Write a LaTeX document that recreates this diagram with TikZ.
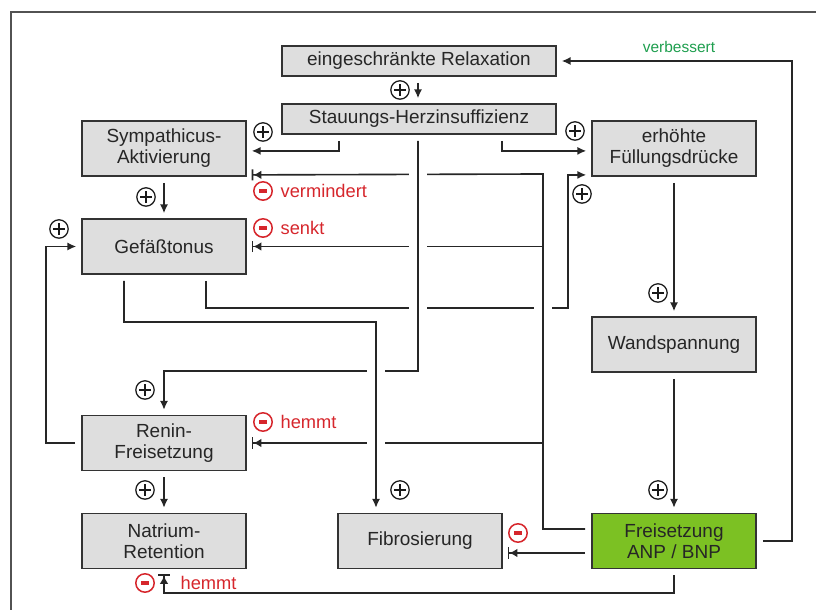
\documentclass[tikz,border=0pt]{standalone}
\usepackage{fontspec}
\setmainfont{Liberation Sans}
\usetikzlibrary{calc,arrows.meta,positioning}
\definecolor{kastengrau}{RGB}{222,222,222}
\definecolor{randgrau}{RGB}{51,51,51}
\definecolor{anpgruen}{RGB}{124,193,35}
\definecolor{hemmrot}{RGB}{214,38,44}
\definecolor{verbgruen}{RGB}{30,158,78}
\def\lgap(#1){\fill[white] ($(#1)+(-0.23,-0.08)$) rectangle ($(#1)+(0.23,0.08)$);}
\tikzset{
  kasten/.style={draw=randgrau, line width=1.3pt, fill=kastengrau, text=black!85, align=center,
    minimum width=4.1cm, minimum height=1.375cm, inner sep=1pt, font=\fontsize{13.5}{15}\selectfont},
  breit/.style={kasten, minimum width=6.85cm, minimum height=0.75cm},
  pfeil/.style={line width=1.15pt, draw=black!85, -{Latex[length=2.2mm,width=2mm]},
    shorten <=0.15cm, shorten >=0.12cm},
  hemmpfeil/.style={line width=1.15pt, draw=black!85, -{Latex[length=2mm,width=2.2mm]Bar[width=2.8mm,line width=1.2pt]},
    shorten <=0.15cm, shorten >=0.12cm},
  plusz/.style={circle, draw=black!90, line width=0.9pt, minimum size=0.46cm, inner sep=0pt,
    path picture={\draw[line width=0.9pt] ($(path picture bounding box.center)+(-0.15,0)$) -- ++(0.3,0)
      ($(path picture bounding box.center)+(0,-0.15)$) -- ++(0,0.3);}},
  minusz/.style={circle, draw=hemmrot, line width=1.1pt, minimum size=0.46cm, inner sep=0pt,
    path picture={\draw[hemmrot, line width=2.2pt] ($(path picture bounding box.center)+(-0.1,0)$) -- ++(0.2,0);}},
  rottext/.style={text=hemmrot, inner sep=1pt, font=\fontsize{13}{15}\selectfont}
}

\begin{document}
\begin{tikzpicture}
	%%%%% RAHMEN %%%%%
	\useasboundingbox (0,0) rectangle (20.4,15.25);
	\draw[line width=2pt, color=black!68] (0.275,0) -- (0.275,14.95) -- (20.4,14.95);
	
	%%%%% KAESTEN %%%%%
	\node[breit] (relax) at (10.475,13.725) {eingeschränkte Relaxation};
	\node[breit] (stau) at (10.475,12.275) {Stauungs-Herzinsuffizienz};
	\node[kasten] (symp) at (4.1,11.5375) {Sympathicus-\\Aktivierung};
	\node[kasten] (gef) at (4.1,9.0875) {Gefäßtonus};
	\node[kasten] (fuell) at (16.85,11.5375) {erhöhte\\Füllungsdrücke};
	\node[kasten] (wand) at (16.85,6.6375) {Wandspannung};
	\node[kasten] (renin) at (4.1,4.175) {Renin-\\Freisetzung};
	\node[kasten] (natr) at (4.1,1.725) {Natrium-\\Retention};
	\node[kasten] (fibro) at (10.5,1.725) {Fibrosierung};
	\node[kasten, fill=anpgruen] (anp) at (16.85,1.725) {Freisetzung\\ANP / BNP};
	
	\coordinate (gfknick) at (14.2,7.55);
	\coordinate (anpknick) at (13.575,10.9);
	\coordinate (stauknick) at (10.45,5.975);
	\coordinate (fibknick) at (9.4,7.2);
	\coordinate (natrknick) at (4.1,0.425);
	\coordinate (verbknick) at (19.8,13.725);
	
	%%%%% VERBINDUNGEN %%%%%
	\draw[pfeil] ([xshift=-0.025cm]relax.south) -- ([xshift=-0.025cm]stau.north);
	\draw[pfeil] ([xshift=-2cm]stau.south) |- ([yshift=-0.06cm]symp.east);
	\draw[pfeil] ([xshift=2.075cm]stau.south) |- ([yshift=-0.06cm]fuell.west);
	\draw[pfeil] (symp) -- (gef);
	\draw[pfeil] (renin) -- (natr);
	\draw[pfeil] (fuell) -- (wand);
	\draw[pfeil] (wand) -- (anp);
	\draw[pfeil] (renin.west) -- ++(-0.875,0) |- (gef.west);
	\draw[pfeil] (anp.east) -| (verbknick) -- (relax.east);
	\draw[hemmpfeil] ([yshift=-0.3cm]anp.west) -- ([yshift=-0.3cm]fibro.east);
	\draw[hemmpfeil] (anp.south) |- (natrknick) -- (natr.south);
	
	% Gefaesstonus -> Fuellungsdruecke
	\draw[pfeil] ([xshift=1.05cm]gef.south) |- (gfknick) |- ([yshift=0.05cm]fuell.south west);
	\lgap(13.575,7.55)
	
	% ANP / BNP -> links
	\draw[hemmpfeil] ([yshift=0.3cm]anp.west) -| (anpknick) -- ([yshift=0.05cm]symp.south east);
	\draw[hemmpfeil, shorten <=0pt] (anpknick |- gef.east) -- (gef.east);
	\draw[hemmpfeil, shorten <=0pt] (anpknick |- renin.east) -- (renin.east);
	\lgap(10.45,10.9)
	\lgap(10.45,9.0875)
	\lgap(10.45,7.55)
	
	% Stauung -> Renin
	\draw[pfeil] ([xshift=-0.025cm]stau.south) -- (stauknick) -| (renin.north);
	\lgap(9.4,5.975)
	\lgap(9.4,4.175)
	
	% Gefaesstonus -> Fibrosierung
	\draw[pfeil] ([xshift=-1cm]gef.south) |- (fibknick) -- ([xshift=-1.1cm]fibro.north);
	
	%%%%% ZEICHEN %%%%%
	\node[plusz] (p-relax) at (10.0,13.0) {};
	\node[plusz] (p-symp) at (6.575,11.95) {};
	\node[plusz] (p-fuell) at (14.375,11.975) {};
	\node[plusz] (p-gffuell) at (14.55,10.4) {};
	\node[plusz] (p-gef) at (3.65,10.325) {};
	\node[plusz] (p-loop) at (1.475,9.525) {};
	\node[plusz] (p-renin) at (3.625,5.5) {};
	\node[plusz] (p-natr) at (3.625,3.0) {};
	\node[plusz] (p-fibro) at (10.0,3.0) {};
	\node[plusz] (p-wand) at (16.45,7.925) {};
	\node[plusz] (p-anp) at (16.45,3.0) {};
	
	\node[minusz] (m-verm) at (6.575,10.475) {};
	\node[minusz] (m-senkt) at (6.575,9.55) {};
	\node[minusz] (m-renin) at (6.575,4.7) {};
	\node[minusz] (m-fibro) at (12.95,1.925) {};
	\node[minusz] (m-natr) at (3.625,0.675) {};
	
	\node[rottext, right=0.15cm of m-verm] (t-verm) {vermindert};
	\node[rottext, right=0.15cm of m-senkt] (t-senkt) {senkt};
	\node[rottext, right=0.15cm of m-renin] (t-renin) {hemmt};
	\node[rottext, right=0.6cm of m-natr] (t-natr) {hemmt};
	\node[text=verbgruen, font=\fontsize{11}{13}\selectfont] (t-verb) at (16.975,14.075) {verbessert};
\end{tikzpicture}
\end{document}
